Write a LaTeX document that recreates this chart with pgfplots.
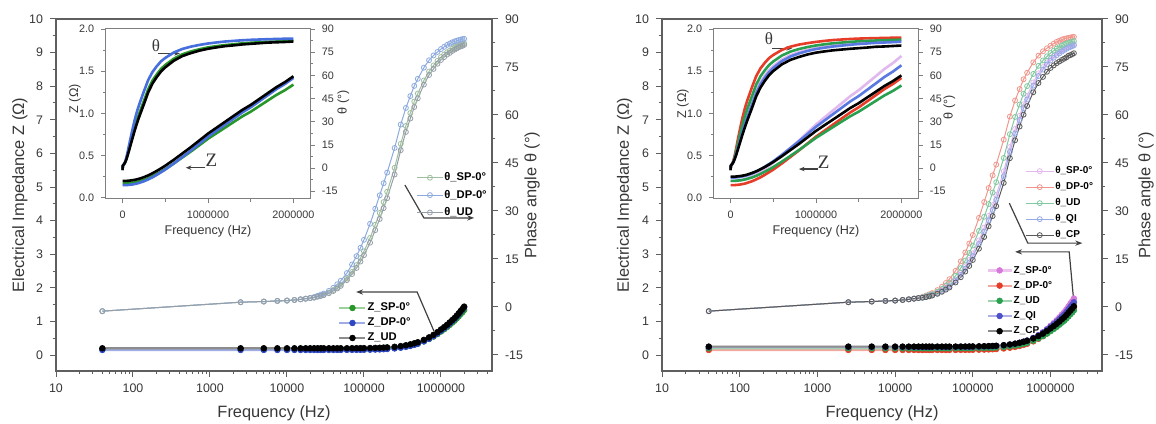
\documentclass[border=0pt]{standalone}
\usepackage{pgfplots}
\pgfplotsset{compat=1.18}
\usepackage{pgfplotstable}
\usepackage{fontspec}
\setmainfont{Liberation Sans}
\newfontfamily\annotfont{Liberation Serif}
\usetikzlibrary{arrows.meta}

\definecolor{axc}{RGB}{95,95,95}
\definecolor{tlc}{RGB}{55,55,55}
\definecolor{cSP}{RGB}{40,150,40}
\definecolor{cDP}{RGB}{45,70,195}
\definecolor{cUD}{RGB}{0,0,0}
\definecolor{lSP}{RGB}{160,190,160}
\definecolor{lDP}{RGB}{140,170,222}
\definecolor{lUD}{RGB}{150,158,168}
\definecolor{iDP}{RGB}{70,110,220}
\definecolor{rSP}{RGB}{215,120,220}
\definecolor{rDP}{RGB}{230,60,40}
\definecolor{rUD}{RGB}{40,160,80}
\definecolor{rQI}{RGB}{80,80,200}
\definecolor{rCP}{RGB}{0,0,0}
\definecolor{qSP}{RGB}{225,185,238}
\definecolor{qDP}{RGB}{240,150,140}
\definecolor{qUD}{RGB}{130,200,160}
\definecolor{qQI}{RGB}{150,170,232}
\definecolor{qCP}{RGB}{90,90,90}
\definecolor{iQI}{RGB}{90,120,225}

\newcommand{\tickfont}{\fontsize{6.2}{7}\selectfont}
\newcommand{\labfont}{\fontsize{8.2}{9.5}\selectfont}
\newcommand{\itickfont}{\fontsize{5.4}{6}\selectfont}
\newcommand{\ilabfont}{\fontsize{6.3}{7}\selectfont}

\pgfplotstableread{
f zSP zDP zUD tSP tDP tUD
40 0.170 0.150 0.200 -1.3 -1.3 -1.3
2500 0.170 0.150 0.200 1.5 1.5 1.5
5000 0.170 0.150 0.200 1.7 1.7 1.7
7500 0.170 0.150 0.200 1.9 1.9 1.9
10000 0.170 0.150 0.200 2.0 2.0 2.0
12500 0.170 0.150 0.200 2.2 2.2 2.2
15000 0.170 0.150 0.200 2.4 2.4 2.4
17500 0.170 0.150 0.200 2.6 2.6 2.6
20000 0.170 0.150 0.200 2.8 2.8 2.8
22500 0.170 0.150 0.200 3.0 3.1 2.9
25000 0.170 0.150 0.200 3.3 3.5 3.2
27500 0.170 0.150 0.200 3.55 3.85 3.45
30000 0.170 0.150 0.200 3.85 4.2 3.7
35000 0.170 0.150 0.200 4.5 5.05 4.3
40000 0.170 0.150 0.200 5.3 6.0 5.0
45000 0.170 0.150 0.200 6.1 7.1 5.8
50000 0.170 0.150 0.200 7.0 8.2 6.6
60000 0.171 0.151 0.201 8.9 10.6 8.4
70000 0.172 0.152 0.202 11.0 13.3 10.3
80000 0.173 0.153 0.203 13.1 15.9 12.2
90000 0.174 0.154 0.204 15.3 18.5 14.2
100000 0.175 0.155 0.205 17.4 21.0 16.2
120000 0.178 0.158 0.208 21.6 26.0 20.1
140000 0.181 0.162 0.212 25.7 30.7 24.0
160000 0.185 0.166 0.216 29.4 34.9 27.5
180000 0.190 0.172 0.221 32.8 38.7 30.9
200000 0.195 0.178 0.227 36.0 42.0 34.0
250000 0.212 0.195 0.244 43.5 49.7 41.4
300000 0.231 0.217 0.265 51.0 57.0 49.0
350000 0.255 0.242 0.290 56.6 62.2 54.7
400000 0.281 0.271 0.318 60.6 65.9 58.9
450000 0.310 0.302 0.348 64.2 69.1 62.5
500000 0.340 0.334 0.380 66.7 71.3 65.2
600000 0.406 0.406 0.450 70.8 74.8 69.5
700000 0.477 0.483 0.525 73.6 77.1 72.5
800000 0.548 0.560 0.600 75.5 78.6 74.4
900000 0.623 0.642 0.680 76.9 79.7 76.0
1000000 0.699 0.723 0.760 78.1 80.6 77.2
1100000 0.765 0.795 0.830 78.9 81.3 78.1
1200000 0.831 0.867 0.900 79.6 81.9 78.9
1300000 0.897 0.938 0.970 80.1 82.3 79.4
1400000 0.963 1.010 1.040 80.7 82.7 80.0
1500000 1.020 1.072 1.100 81.1 83.0 80.4
1600000 1.086 1.143 1.170 81.4 83.2 80.8
1700000 1.152 1.215 1.240 81.7 83.4 81.2
1800000 1.218 1.287 1.310 81.9 83.55 81.4
1900000 1.274 1.348 1.370 82.1 83.7 81.6
2000000 1.341 1.420 1.440 82.4 83.8 81.9
}\leftdata

\pgfplotstableread{
f zSP zDP zUD zQI zCP tSP tDP tUD tQI tCP
40 0.200 0.150 0.200 0.240 0.250 -1.3 -1.3 -1.3 -1.3 -1.3
2500 0.200 0.150 0.200 0.240 0.250 1.5 1.5 1.5 1.5 1.5
5000 0.200 0.150 0.200 0.240 0.250 1.7 1.7 1.7 1.7 1.7
7500 0.200 0.150 0.200 0.240 0.250 1.9 1.9 1.9 1.9 1.9
10000 0.200 0.150 0.200 0.240 0.250 2.0 2.0 2.0 2.0 2.0
12500 0.200 0.150 0.200 0.240 0.250 2.2 2.2 2.2 2.2 2.2
15000 0.200 0.150 0.200 0.240 0.250 2.4 2.4 2.4 2.4 2.4
17500 0.200 0.150 0.200 0.240 0.250 2.6 2.6 2.6 2.6 2.6
20000 0.200 0.150 0.200 0.240 0.250 2.8 2.8 2.8 2.8 2.8
22500 0.200 0.150 0.200 0.240 0.250 2.96 3.15 3.04 2.93 2.89
25000 0.200 0.150 0.200 0.240 0.250 3.22 3.6 3.38 3.16 3.08
27500 0.200 0.150 0.200 0.240 0.250 3.50 3.98 3.70 3.43 3.33
30000 0.200 0.150 0.200 0.240 0.250 3.78 4.35 4.02 3.69 3.57
35000 0.200 0.150 0.200 0.240 0.250 4.42 5.28 4.78 4.29 4.11
40000 0.200 0.150 0.200 0.240 0.250 5.16 6.3 5.64 4.98 4.74
45000 0.200 0.150 0.200 0.240 0.250 5.98 7.5 6.62 5.74 5.42
50000 0.200 0.150 0.200 0.240 0.250 6.8 8.7 7.6 6.5 6.1
60000 0.201 0.151 0.201 0.241 0.251 8.64 11.3 9.76 8.22 7.66
70000 0.202 0.152 0.202 0.242 0.252 10.64 14.25 12.16 10.07 9.31
80000 0.204 0.153 0.203 0.243 0.253 12.68 17.05 14.52 11.99 11.07
90000 0.205 0.154 0.204 0.244 0.254 14.72 19.85 16.88 13.91 12.83
100000 0.206 0.155 0.205 0.245 0.255 16.8 22.5 19.2 15.9 14.7
120000 0.210 0.158 0.207 0.249 0.258 20.82 27.85 23.78 19.71 18.23
140000 0.214 0.162 0.211 0.253 0.262 24.82 32.8 28.18 23.56 21.88
160000 0.219 0.166 0.215 0.257 0.265 28.46 37.2 32.14 27.08 25.24
180000 0.225 0.171 0.219 0.262 0.270 31.84 41.15 35.76 30.37 28.41
200000 0.232 0.178 0.225 0.269 0.276 35.0 44.5 39.0 33.5 31.5
250000 0.253 0.195 0.240 0.287 0.293 42.42 52.3 46.58 40.86 38.78
300000 0.278 0.217 0.259 0.310 0.313 50.0 59.5 54.0 48.5 46.5
350000 0.307 0.242 0.282 0.337 0.337 55.62 64.55 59.38 54.21 52.1
400000 0.341 0.271 0.308 0.367 0.364 59.74 68.1 63.26 58.42 56.4
450000 0.377 0.302 0.335 0.399 0.393 63.36 71.15 66.64 62.13 60.1
500000 0.415 0.334 0.364 0.433 0.424 65.98 73.2 69.02 64.84 62.8
600000 0.498 0.406 0.428 0.508 0.492 70.18 76.45 72.82 69.19 67.1
700000 0.588 0.483 0.496 0.589 0.565 73.04 78.55 75.36 72.17 70.0
800000 0.677 0.560 0.565 0.669 0.637 74.96 79.9 77.04 74.18 71.9
900000 0.773 0.642 0.637 0.755 0.715 76.48 80.85 78.32 75.79 73.5
1000000 0.868 0.724 0.710 0.841 0.792 77.66 81.65 79.34 77.03 74.7
1100000 0.952 0.795 0.774 0.916 0.860 78.5 82.3 80.1 77.9 75.5
1200000 1.035 0.867 0.838 0.991 0.927 79.24 82.85 80.76 78.67 76.2
1300000 1.119 0.939 0.902 1.066 0.995 79.78 83.2 81.22 79.24 76.7
1400000 1.203 1.010 0.965 1.141 1.063 80.32 83.55 81.68 79.81 77.2
1500000 1.274 1.072 1.020 1.205 1.121 80.76 83.8 82.04 80.28 77.6
1600000 1.358 1.143 1.084 1.280 1.189 81.1 83.95 82.3 80.65 78.0
1700000 1.441 1.215 1.148 1.355 1.256 81.44 84.1 82.56 81.02 78.5
1800000 1.525 1.287 1.212 1.431 1.324 81.66 84.2 82.74 81.26 78.7
1900000 1.596 1.348 1.266 1.495 1.382 81.88 84.35 82.92 81.49 79.0
2000000 1.680 1.420 1.330 1.570 1.450 82.12 84.4 83.08 81.76 79.3
}\rightdata

\tikzset{
  zl/.style={draw=#1!45, line width=1.1pt, mark=*, mark size=1.45pt, mark options={draw=#1, fill=#1, line width=0.3pt}},
  tl/.style={draw=#1, line width=0.5pt, mark=o, mark size=1.25pt, mark options={draw=#1, fill=white, line width=0.4pt}},
  il/.style={draw=#1, line width=1.3pt},
  arr/.style={draw=black!75, line width=0.6pt},
}

\begin{document}
\begin{tikzpicture}
\useasboundingbox (0,0) rectangle (578pt,211.5pt);

%================ LEFT PANEL: impedance axis =================
\begin{axis}[
  at={(28pt,26pt)}, anchor=south west, scale only axis, width=218pt, height=176pt,
  xmode=log, xmin=10, xmax=4.6e6, ymin=-0.476, ymax=10,
  axis line style={draw=axc, line width=0.8pt},
  tick style={draw=axc, line width=0.5pt},
  tick align=outside, major tick length=3pt, minor tick length=1.7pt,
  tick label style={font=\tickfont, text=tlc},
  label style={font=\labfont, text=tlc},
  xtick={10,100,1000,10000,100000,1000000},
  xticklabels={10,100,1000,10000,100000,1000000},
  minor xtick={20,30,40,50,60,70,80,90,200,300,400,500,600,700,800,900,2000,3000,4000,5000,6000,7000,8000,9000,20000,30000,40000,50000,60000,70000,80000,90000,200000,300000,400000,500000,600000,700000,800000,900000,2000000,3000000,4000000},
  xtick pos=left, ytick pos=left,
  ytick={0,1,2,3,4,5,6,7,8,9,10},
  yticklabels={0,1,2,3,4,5,6,7,8,9,10},
  minor ytick={0.5,1.5,2.5,3.5,4.5,5.5,6.5,7.5,8.5,9.5},
  xlabel={Frequency (Hz)},
  xlabel style={at={(axis description cs:0.5,-0.119)}, anchor=center},
  ylabel={Electrical Impedance Z (Ω)},
  ylabel style={at={(axis description cs:-0.083,0.5)}, anchor=center},
  legend image code/.code={\draw[mark repeat=2,mark phase=2,#1] plot coordinates {(0pt,0pt) (6.5pt,0pt) (13pt,0pt)};},
  legend cell align=left,
  legend style={at={(0.633,0.21)}, anchor=north west, draw=none, fill=none,
    font=\fontsize{5.6}{6.5}\selectfont\bfseries, row sep=1pt,
    nodes={inner sep=0.5pt, text height=4.2pt, text depth=1.3pt}},
  ]
\addplot[zl=cSP] table[x=f,y=zSP]{\leftdata};
\addlegendentry{Z\_SP-0°}
\addplot[zl=cDP] table[x=f,y=zDP]{\leftdata};
\addlegendentry{Z\_DP-0°}
\addplot[zl=cUD] table[x=f,y=zUD]{\leftdata};
\addlegendentry{Z\_UD}
\draw[arr, {Stealth[length=3.5pt,width=2.6pt]}-] (axis cs:79000,1.875) -- (axis cs:490000,1.875) -- (axis cs:810000,0.714);
\draw[arr, -{Stealth[length=3.5pt,width=2.6pt]}] (axis cs:340000,5.06) -- (axis cs:600000,4.08) -- (axis cs:2700000,4.08);
\end{axis}

%================ LEFT PANEL: phase axis =================
\begin{axis}[
  at={(28pt,26pt)}, anchor=south west, scale only axis, width=218pt, height=176pt,
  xmode=log, xmin=10, xmax=4.6e6, ymin=-20, ymax=90,
  axis y line*=right, axis x line=none,
  axis line style={draw=axc, line width=0.8pt},
  tick style={draw=axc, line width=0.5pt},
  tick align=outside, major tick length=3pt, minor tick length=1.7pt,
  tick label style={font=\tickfont, text=tlc},
  label style={font=\labfont, text=tlc},
  ytick={-15,0,15,30,45,60,75,90},
  yticklabels={-15,0,15,30,45,60,75,90},
  minor ytick={-7.5,7.5,22.5,37.5,52.5,67.5,82.5},
  ylabel={Phase angle θ (°)},
  ylabel style={at={(axis description cs:1.092,0.5)}, anchor=center},
  legend image code/.code={\draw[mark repeat=2,mark phase=2,#1] plot coordinates {(0pt,0pt) (6.5pt,0pt) (13pt,0pt)};},
  legend cell align=left,
  legend style={at={(0.812,0.58)}, anchor=north west, draw=none, fill=none,
    font=\fontsize{5.6}{6.5}\selectfont\bfseries, row sep=2.2pt,
    nodes={inner sep=0.5pt, text height=4.2pt, text depth=1.3pt}},
  ]
\addplot[tl=lSP] table[x=f,y=tSP]{\leftdata};
\addlegendentry{θ\_SP-0°}
\addplot[tl=lDP] table[x=f,y=tDP]{\leftdata};
\addlegendentry{θ\_DP-0°}
\addplot[tl=lUD] table[x=f,y=tUD]{\leftdata};
\addlegendentry{θ\_UD}
\end{axis}

%================ LEFT INSET =================
\begin{axis}[
  at={(52.75pt,112pt)}, anchor=south west, scale only axis, width=102.5pt, height=85pt,
  xmin=-200000, xmax=2200000, ymin=-0.015, ymax=2,
  scaled x ticks=false,
  axis background/.style={fill=white},
  axis line style={draw=axc!80, line width=0.5pt},
  tick style={draw=axc!80, line width=0.4pt},
  tick align=outside, major tick length=2.2pt, minor tick length=1.3pt,
  tick label style={font=\itickfont, text=tlc},
  label style={font=\ilabfont, text=tlc},
  xtick={0,1000000,2000000}, xticklabels={0,1000000,2000000},
  minor xtick={500000,1500000},
  xtick pos=left, ytick pos=left,
  ytick={0,0.5,1,1.5,2}, yticklabels={0.0,0.5,1.0,1.5,2.0},
  minor ytick={0.25,0.75,1.25,1.75},
  xlabel={Frequency (Hz)},
  xlabel style={at={(axis description cs:0.5,-0.19)}, anchor=center},
  ylabel={Z (Ω)},
  ylabel style={at={(axis description cs:-0.15,0.59)}, anchor=center},
  ]
\addplot[il=cSP] table[x=f,y=zSP]{\leftdata};
\addplot[il=iDP] table[x=f,y=zDP]{\leftdata};
\addplot[il=cUD] table[x=f,y=zUD]{\leftdata};
\node[font=\annotfont\fontsize{8.5}{9}\selectfont, text=tlc] at (axis cs:390000,1.80) {θ};
\draw[arr, -{Stealth[length=2.8pt,width=2.2pt]}] (axis cs:420000,1.71) -- (axis cs:670000,1.71);
\node[font=\annotfont\fontsize{9.5}{10}\selectfont, text=tlc] at (axis cs:1040000,0.44) {Z};
\draw[arr, -{Stealth[length=2.8pt,width=2.2pt]}] (axis cs:970000,0.356) -- (axis cs:740000,0.356);
\end{axis}
\begin{axis}[
  at={(52.75pt,112pt)}, anchor=south west, scale only axis, width=102.5pt, height=85pt,
  xmin=-200000, xmax=2200000, ymin=-20, ymax=90,
  axis y line*=right, axis x line=none,
  axis line style={draw=axc!80, line width=0.5pt},
  tick style={draw=axc!80, line width=0.4pt},
  tick align=outside, major tick length=2.2pt, minor tick length=1.3pt,
  tick label style={font=\itickfont, text=tlc},
  label style={font=\ilabfont, text=tlc},
  ytick={-15,0,15,30,45,60,75,90},
  yticklabels={-15,0,15,30,45,60,75,90},
  minor ytick={-7.5,7.5,22.5,37.5,52.5,67.5,82.5},
  ylabel={θ (°)},
  ylabel style={at={(axis description cs:1.16,0.57)}, anchor=center},
  ]
\addplot[il=cSP] table[x=f,y=tSP]{\leftdata};
\addplot[il=iDP] table[x=f,y=tDP]{\leftdata};
\addplot[il=cUD] table[x=f,y=tUD]{\leftdata};
\end{axis}

%================ RIGHT PANEL: impedance axis =================
\begin{axis}[
  at={(331pt,26pt)}, anchor=south west, scale only axis, width=220pt, height=176pt,
  xmode=log, xmin=10, xmax=4.6e6, ymin=-0.476, ymax=10,
  axis line style={draw=axc, line width=0.8pt},
  tick style={draw=axc, line width=0.5pt},
  tick align=outside, major tick length=3pt, minor tick length=1.7pt,
  tick label style={font=\tickfont, text=tlc},
  label style={font=\labfont, text=tlc},
  xtick={10,100,1000,10000,100000,1000000},
  xticklabels={10,100,1000,10000,100000,1000000},
  minor xtick={20,30,40,50,60,70,80,90,200,300,400,500,600,700,800,900,2000,3000,4000,5000,6000,7000,8000,9000,20000,30000,40000,50000,60000,70000,80000,90000,200000,300000,400000,500000,600000,700000,800000,900000,2000000,3000000,4000000},
  xtick pos=left, ytick pos=left,
  ytick={0,1,2,3,4,5,6,7,8,9,10},
  yticklabels={0,1,2,3,4,5,6,7,8,9,10},
  minor ytick={0.5,1.5,2.5,3.5,4.5,5.5,6.5,7.5,8.5,9.5},
  xlabel={Frequency (Hz)},
  xlabel style={at={(axis description cs:0.5,-0.119)}, anchor=center},
  ylabel={Electrical Impedance Z (Ω)},
  ylabel style={at={(axis description cs:-0.085,0.5)}, anchor=center},
  legend image code/.code={\draw[mark repeat=2,mark phase=2,#1] plot coordinates {(0pt,0pt) (6pt,0pt) (12pt,0pt)};},
  legend cell align=left,
  legend style={at={(0.723,0.315)}, anchor=north west, draw=none, fill=none,
    font=\fontsize{5.0}{6}\selectfont\bfseries, row sep=1.7pt,
    nodes={inner sep=0.5pt, text height=3.8pt, text depth=1.1pt}},
  ]
\addplot[zl=rSP] table[x=f,y=zSP]{\rightdata};
\addlegendentry{Z\_SP-0°}
\addplot[zl=rDP] table[x=f,y=zDP]{\rightdata};
\addlegendentry{Z\_DP-0°}
\addplot[zl=rUD] table[x=f,y=zUD]{\rightdata};
\addlegendentry{Z\_UD}
\addplot[zl=rQI] table[x=f,y=zQI]{\rightdata};
\addlegendentry{Z\_QI}
\addplot[zl=rCP] table[x=f,y=zCP]{\rightdata};
\addlegendentry{Z\_CP}
\draw[arr, {Stealth[length=3.5pt,width=2.6pt]}-] (axis cs:350000,3.07) -- (axis cs:1740000,3.07) -- (axis cs:2000000,1.55);
\draw[arr, -{Stealth[length=3.5pt,width=2.6pt]}] (axis cs:295000,4.52) -- (axis cs:510000,3.33) -- (axis cs:2570000,3.33);
\end{axis}

%================ RIGHT PANEL: phase axis =================
\begin{axis}[
  at={(331pt,26pt)}, anchor=south west, scale only axis, width=220pt, height=176pt,
  xmode=log, xmin=10, xmax=4.6e6, ymin=-20, ymax=90,
  axis y line*=right, axis x line=none,
  axis line style={draw=axc, line width=0.8pt},
  tick style={draw=axc, line width=0.5pt},
  tick align=outside, major tick length=3pt, minor tick length=1.7pt,
  tick label style={font=\tickfont, text=tlc},
  label style={font=\labfont, text=tlc},
  ytick={-15,0,15,30,45,60,75,90},
  yticklabels={-15,0,15,30,45,60,75,90},
  minor ytick={-7.5,7.5,22.5,37.5,52.5,67.5,82.5},
  ylabel={Phase angle θ (°)},
  ylabel style={at={(axis description cs:1.10,0.5)}, anchor=center},
  legend image code/.code={\draw[mark repeat=2,mark phase=2,#1] plot coordinates {(0pt,0pt) (7pt,0pt) (14pt,0pt)};},
  legend cell align=left,
  legend style={at={(0.811,0.597)}, anchor=north west, draw=none, fill=none,
    font=\fontsize{5.0}{6}\selectfont\bfseries, row sep=2.1pt,
    nodes={inner sep=0.5pt, text height=3.8pt, text depth=1.1pt}},
  ]
\addplot[tl=qSP] table[x=f,y=tSP]{\rightdata};
\addlegendentry{θ\_SP-0°}
\addplot[tl=qDP] table[x=f,y=tDP]{\rightdata};
\addlegendentry{θ\_DP-0°}
\addplot[tl=qUD] table[x=f,y=tUD]{\rightdata};
\addlegendentry{θ\_UD}
\addplot[tl=qQI] table[x=f,y=tQI]{\rightdata};
\addlegendentry{θ\_QI}
\addplot[tl=qCP] table[x=f,y=tCP]{\rightdata};
\addlegendentry{θ\_CP}
\end{axis}

%================ RIGHT INSET =================
\begin{axis}[
  at={(356.75pt,112pt)}, anchor=south west, scale only axis, width=102.5pt, height=85pt,
  xmin=-200000, xmax=2200000, ymin=-0.015, ymax=2,
  scaled x ticks=false,
  axis background/.style={fill=white},
  axis line style={draw=axc!80, line width=0.5pt},
  tick style={draw=axc!80, line width=0.4pt},
  tick align=outside, major tick length=2.2pt, minor tick length=1.3pt,
  tick label style={font=\itickfont, text=tlc},
  label style={font=\ilabfont, text=tlc},
  xtick={0,1000000,2000000}, xticklabels={0,1000000,2000000},
  minor xtick={500000,1500000},
  xtick pos=left, ytick pos=left,
  ytick={0,0.5,1,1.5,2}, yticklabels={0.0,0.5,1.0,1.5,2.0},
  minor ytick={0.25,0.75,1.25,1.75},
  xlabel={Frequency (Hz)},
  xlabel style={at={(axis description cs:0.5,-0.19)}, anchor=center},
  ylabel={Z (Ω)},
  ylabel style={at={(axis description cs:-0.15,0.56)}, anchor=center},
  ]
\addplot[il=qSP] table[x=f,y=zSP]{\rightdata};
\addplot[il=rDP] table[x=f,y=zDP]{\rightdata};
\addplot[il=rUD] table[x=f,y=zUD]{\rightdata};
\addplot[il=iQI] table[x=f,y=zQI]{\rightdata};
\addplot[il=rCP] table[x=f,y=zCP]{\rightdata};
\node[font=\annotfont\fontsize{8.5}{9}\selectfont, text=tlc] at (axis cs:450000,1.88) {θ};
\draw[arr, -{Stealth[length=2.8pt,width=2.2pt]}] (axis cs:490000,1.77) -- (axis cs:720000,1.77);
\node[font=\annotfont\fontsize{9.5}{10}\selectfont, text=tlc] at (axis cs:1090000,0.42) {Z};
\draw[arr, -{Stealth[length=2.8pt,width=2.2pt]}] (axis cs:1020000,0.34) -- (axis cs:800000,0.34);
\end{axis}
\begin{axis}[
  at={(356.75pt,112pt)}, anchor=south west, scale only axis, width=102.5pt, height=85pt,
  xmin=-200000, xmax=2200000, ymin=-20, ymax=90,
  axis y line*=right, axis x line=none,
  axis line style={draw=axc!80, line width=0.5pt},
  tick style={draw=axc!80, line width=0.4pt},
  tick align=outside, major tick length=2.2pt, minor tick length=1.3pt,
  tick label style={font=\itickfont, text=tlc},
  label style={font=\ilabfont, text=tlc},
  ytick={-15,0,15,30,45,60,75,90},
  yticklabels={-15,0,15,30,45,60,75,90},
  minor ytick={-7.5,7.5,22.5,37.5,52.5,67.5,82.5},
  ylabel={θ (°)},
  ylabel style={at={(axis description cs:1.15,0.54)}, anchor=center},
  ]
\addplot[il=qSP] table[x=f,y=tSP]{\rightdata};
\addplot[il=rDP] table[x=f,y=tDP]{\rightdata};
\addplot[il=rUD] table[x=f,y=tUD]{\rightdata};
\addplot[il=iQI] table[x=f,y=tQI]{\rightdata};
\addplot[il=rCP] table[x=f,y=tCP]{\rightdata};
\end{axis}

\end{tikzpicture}
\end{document}
